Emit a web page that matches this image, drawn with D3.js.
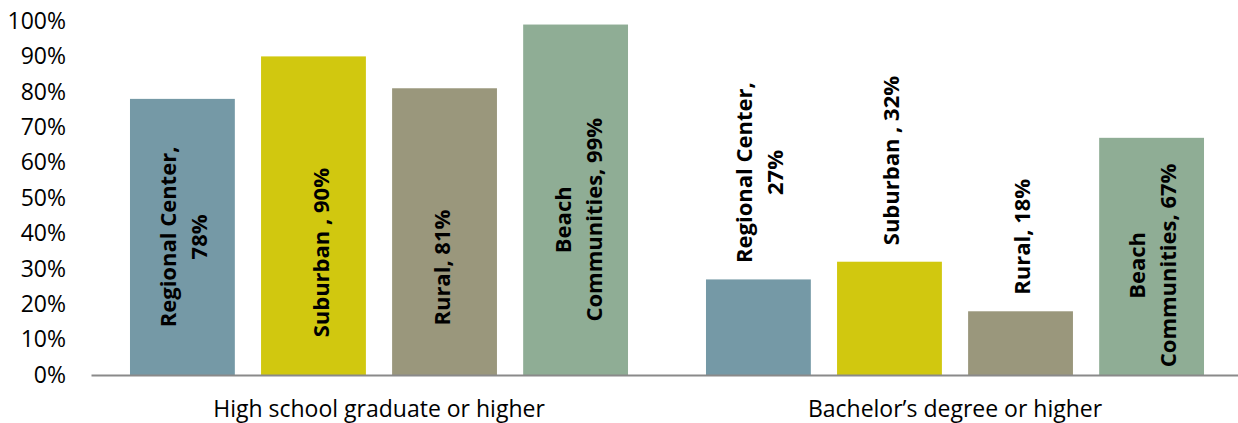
<!DOCTYPE html>
<html>
<head>
<meta charset="utf-8">
<script src="https://cdn.jsdelivr.net/npm/d3@7"></script>
<style>
  html, body { margin: 0; padding: 0; background: #fff; }
  svg { display: block; }
  text { font-family: "Open Sans", "DejaVu Sans", sans-serif; }
</style>
</head>
<body>
<svg id="chart" width="1238" height="423"></svg>
<script>
// ---- data ----
const groups = ["High school graduate or higher", "Bachelor\u2019s degree or higher"];
const series = ["Regional Center", "Suburban ", "Rural", "Beach Communities"];
const highSchool = [0.78, 0.90, 0.81, 0.99];
const bachelor = [0.27, 0.32, 0.18, 0.67];
const yTicks = [0, 0.1, 0.2, 0.3, 0.4, 0.5, 0.6, 0.7, 0.8, 0.9, 1.0];
const colors = ["#7599A6", "#D1C80F", "#9A977C", "#8FAD95"];
// data label text lines
const labelLines = [
  [["Regional Center,", "78%"], ["Suburban , 90%"], ["Rural, 81%"], ["Beach", "Communities, 99%"]],
  [["Regional Center,", "27%"], ["Suburban , 32%"], ["Rural, 18%"], ["Beach", "Communities, 67%"]]
];

const values = [highSchool, bachelor];

// ---- layout ----
const svg = d3.select("#chart");
const baseY = 375, topY = 21;
const y = d3.scaleLinear().domain([0, 1]).range([baseY, topY]);
const x0 = d3.scaleBand().domain(groups).range([91, 1243]).padding(0);
const x1 = d3.scaleBand().domain(series).range([0, x0.bandwidth()])
  .paddingInner(0.2).paddingOuter(0.2975);

// placement: "c" = centred inside bar, "o" = outside end; nudges (dx, dy)
const placement = [
  [{p: "c", dx: 0, dy: 0}, {p: "c", dx: 7, dy: 37}, {p: "c", dx: -4, dy: 36}, {p: "c", dx: 2, dy: 20}],
  [{p: "o", dx: 0, dy: 0}, {p: "o", dx: 1, dy: 0}, {p: "o", dx: 0, dy: 0}, {p: "c", dx: 0, dy: 9}]
];

// y axis labels
const yAxis = d3.axisLeft(y).tickValues(yTicks).tickFormat(d3.format(".0%"))
  .tickSize(0).tickPadding(0);
const gy = svg.append("g").attr("transform", "translate(66,0)").call(yAxis);
gy.select(".domain").remove();
gy.selectAll("text").attr("font-size", 23).attr("fill", "#000")
  .style("font-family", "'Open Sans', sans-serif");

// bars
const gGroups = svg.append("g").selectAll("g").data(groups).join("g")
  .attr("transform", d => `translate(${x0(d)},0)`);

gGroups.each(function(g, gi) {
  const sel = d3.select(this);
  sel.selectAll("rect").data(series).join("rect")
    .attr("x", s => x1(s))
    .attr("width", x1.bandwidth())
    .attr("y", (s, si) => y(values[gi][si]))
    .attr("height", (s, si) => y(0) - y(values[gi][si]))
    .attr("fill", (s, si) => colors[si]);
});

// x axis
const xAxis = d3.axisBottom(x0).tickSize(0).tickPadding(26).tickSizeOuter(0);
const gx = svg.append("g").attr("transform", `translate(0,${baseY})`).call(xAxis);
gx.select(".domain").attr("stroke", "#8a8a8a").attr("stroke-width", 2);
gx.selectAll("text").attr("font-size", 23).attr("fill", "#000")
  .style("font-family", "'Open Sans', sans-serif");

// data labels (rotated)
const lineGap = 31;
gGroups.each(function(g, gi) {
  const sel = d3.select(this);
  series.forEach((s, si) => {
    const v = values[gi][si];
    const pl = placement[gi][si];
    const lines = labelLines[gi][si];
    const cx = x1(s) + x1.bandwidth() / 2 + pl.dx;
    const lg = sel.append("g");
    const t = lg.append("text")
      .attr("text-anchor", "middle")
      .attr("font-size", 22)
      .attr("font-weight", "bold")
      .attr("fill", "#000");
    lines.forEach((ln, li) => {
      t.append("tspan")
        .attr("x", 0)
        .attr("y", (li - (lines.length - 1) / 2) * lineGap)
        .attr("dominant-baseline", "central")
        .text(ln);
    });
    let maxLen = 0;
    t.selectAll("tspan").each(function() { maxLen = Math.max(maxLen, this.getComputedTextLength()); });
    let cy;
    if (pl.p === "c") {
      cy = (y(v) + y(0)) / 2 + pl.dy;
    } else {
      cy = y(v) - 16.5 - maxLen / 2 + pl.dy;
    }
    lg.attr("transform", `translate(${cx},${cy}) rotate(-90)`);
  });
});
</script>
</body>
</html>
